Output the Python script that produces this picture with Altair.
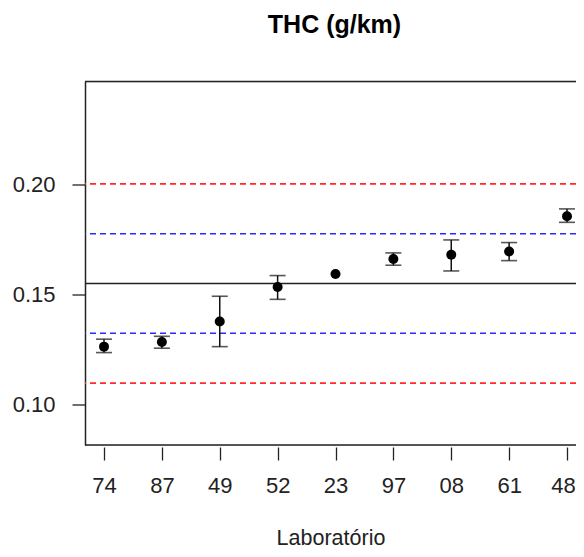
import altair as alt
import pandas as pd

labs = ["74", "87", "49", "52", "23", "97", "08", "61", "48"]
means = [0.1262, 0.1283, 0.1376, 0.1533, 0.1592, 0.1660, 0.1680, 0.1694, 0.1855]
lower = [0.1235, 0.1255, 0.1262, 0.1477, None, 0.1632, 0.1606, 0.1653, 0.1827]
upper = [0.1296, 0.1309, 0.1491, 0.1585, None, 0.1688, 0.1747, 0.1735, 0.1888]

center_val = 0.1549
blue_vals = [0.1775, 0.1323]
red_vals = [0.2002, 0.1096]
y_ticks = [0.10, 0.15, 0.20]

W, H = 491, 363.5
FONT = "Liberation Sans"

idx = list(range(1, len(labs) + 1))
df = pd.DataFrame({"i": idx, "lab": labs, "m": means, "lo": lower, "hi": upper})
err = df.dropna()

label_js = "[" + ",".join("'%s'" % s for s in labs) + "][datum.value - 1]"
last = len(labs)

xs = alt.Scale(domain=[0.6717, 9.1555], nice=False, zero=False)
ys = alt.Scale(domain=[0.0815, 0.2467], nice=False, zero=False)

x_axis = alt.Axis(values=idx, labelExpr=label_js, title="Laboratório", grid=False,
                  domain=False, tickSize=13, offset=2, tickColor="#222", tickWidth=1.3,
                  labelFontSize=22, labelFont=FONT, labelColor="#222", labelPadding=15,
                  labelOffset={"expr": "datum.value == %d ? -4 : 0" % last},
                  titleFontSize=21.5, titleFont=FONT, titleFontWeight="normal",
                  titleColor="#222", titlePadding=31)
y_axis = alt.Axis(values=y_ticks, format=".2f", title=None, grid=False,
                  domain=True, domainColor="#222", domainWidth=1.5,
                  tickSize=13, tickColor="#222", tickWidth=1.3,
                  labelFontSize=22, labelFont=FONT, labelColor="#222", labelPadding=17)

base = alt.Chart(df)

points = base.mark_circle(size=100, color="black", opacity=1).encode(
    x=alt.X("i:Q", scale=xs, axis=x_axis),
    y=alt.Y("m:Q", scale=ys, axis=y_axis),
)

ebase = alt.Chart(err)
vrule = ebase.mark_rule(color="#111", strokeWidth=1.5).encode(
    x=alt.X("i:Q", scale=xs), y=alt.Y("lo:Q", scale=ys), y2="hi:Q")
cap_lo = ebase.mark_tick(orient="horizontal", color="#111", size=16, thickness=1.6).encode(
    x=alt.X("i:Q", scale=xs), y=alt.Y("lo:Q", scale=ys))
cap_hi = ebase.mark_tick(orient="horizontal", color="#111", size=16, thickness=1.6).encode(
    x=alt.X("i:Q", scale=xs), y=alt.Y("hi:Q", scale=ys))

ref_center = alt.Chart(pd.DataFrame({"v": [center_val]})).mark_rule(
    color="#222", strokeWidth=1.5).encode(y=alt.Y("v:Q", scale=ys))
ref_blue = alt.Chart(pd.DataFrame({"v": blue_vals})).mark_rule(
    color="#2a2aff", strokeWidth=1.6, strokeDash=[6, 4]).encode(y=alt.Y("v:Q", scale=ys))
ref_red = alt.Chart(pd.DataFrame({"v": red_vals})).mark_rule(
    color="#ff2a2a", strokeWidth=1.7, strokeDash=[6, 4]).encode(y=alt.Y("v:Q", scale=ys))

frame = pd.DataFrame({"a": [0]})
top_line = alt.Chart(frame).mark_rule(color="#222", strokeWidth=1.5).encode(y=alt.value(0))
bottom_line = alt.Chart(frame).mark_rule(color="#222", strokeWidth=1.5).encode(y=alt.value(H))

chart = alt.layer(
    ref_red, ref_blue, ref_center, top_line, bottom_line, vrule, cap_lo, cap_hi, points
).properties(
    width=W, height=H,
    title=alt.TitleParams("THC (g/km)", font=FONT, fontSize=25, fontWeight="bold",
                          color="black", anchor="middle", offset=43, dx=4),
    autosize=alt.AutoSizeParams(type="none"),
    padding={"left": 77, "top": 73.5, "right": 0, "bottom": 104},
).configure_view(stroke=None).configure(background="white")

chart.save("out.html", embed_options={"renderer": "svg", "actions": False})
